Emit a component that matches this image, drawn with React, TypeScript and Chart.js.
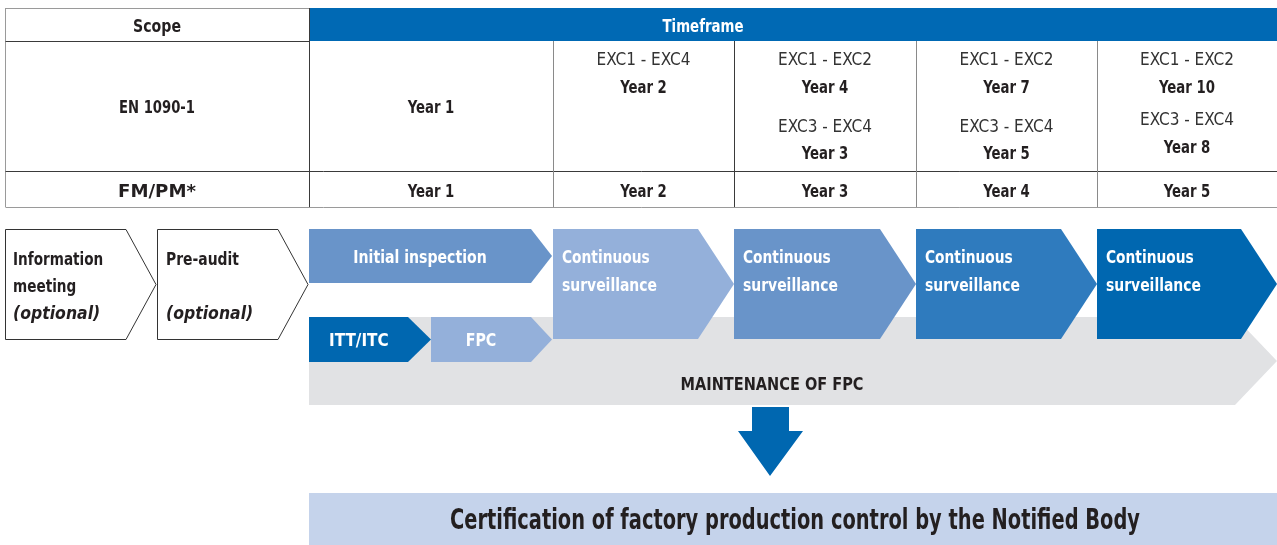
import React, { useEffect, useRef } from "react";
import { Chart, registerables } from "chart.js";

Chart.register(...registerables);

// ---------- content (text values) ----------
const scopeHeader = "Scope";
const timeframeHeader = "Timeframe";
const scopes = ["EN 1090-1", "FM/PM*"];
const enRangeLabels = ["", "EXC1 - EXC4", "EXC1 - EXC2", "EXC1 - EXC2", "EXC1 - EXC2"];
const enRangeYears = ["Year 1", "Year 2", "Year 4", "Year 7", "Year 10"];
const enRange2Labels = ["", "", "EXC3 - EXC4", "EXC3 - EXC4", "EXC3 - EXC4"];
const enRange2Years = ["", "", "Year 3", "Year 5", "Year 8"];
const fmYears = ["Year 1", "Year 2", "Year 3", "Year 4", "Year 5"];
const preSteps = [
  ["Information", "meeting", "(optional)"],
  ["Pre-audit", "", "(optional)"],
];
const initialStep = "Initial inspection";
const fpcSteps = ["ITT/ITC", "FPC"];
const surveillanceSteps = [
  ["Continuous", "surveillance"],
  ["Continuous", "surveillance"],
  ["Continuous", "surveillance"],
  ["Continuous", "surveillance"],
];
const maintenanceLabel = "MAINTENANCE OF FPC";
const certificationLabel = "Certification of factory production control by the Notified Body";

// ---------- layout (diagram coordinates in scale units) ----------
const W = 1277;
const H = 545;
const colEdges = [309, 553, 734, 916, 1097, 1277];
const tableTop = 8;
const headerBottom = 41;
const row2Bottom = 171;
const tableBottom = 207;
const enY = [59, 86, 126, 152];
const enY5 = [59, 86, 119, 146];

const C = {
  dark: "#0067b0",
  mid: "#2f7bbe",
  light: "#6994c9",
  pale: "#94b0da",
  grey: "#e1e2e4",
  cert: "#c5d3eb",
  text: "#231f20",
};
const survColors = [C.pale, C.light, C.mid, C.dark];
const survEdges = [553, 734, 916, 1097, 1277];

const FONT = '"DejaVu Sans Condensed", "DejaVu Sans", Roboto, sans-serif';

type TextOpts = {
  size?: number;
  bold?: boolean;
  italic?: boolean;
  color?: string;
  align?: CanvasTextAlign;
  f?: number;
  w?: number;
};

const diagramPlugin = {
  id: "diagram",
  afterDraw(chart: any) {
    const ctx: CanvasRenderingContext2D = chart.ctx;
    const sx = chart.scales.x;
    const sy = chart.scales.y;
    const X = (v: number) => sx.getPixelForValue(v);
    const Y = (v: number) => sy.getPixelForValue(v);

    const poly = (pts: number[][], fill?: string, stroke?: string, lw = 1) => {
      ctx.beginPath();
      pts.forEach(([a, b], i) => (i ? ctx.lineTo(X(a), Y(b)) : ctx.moveTo(X(a), Y(b))));
      ctx.closePath();
      if (fill) {
        ctx.fillStyle = fill;
        ctx.fill();
      }
      if (stroke) {
        ctx.strokeStyle = stroke;
        ctx.lineWidth = lw;
        ctx.stroke();
      }
    };
    const chevron = (x0: number, x1: number, tip: number, y0: number, y1: number, fill?: string, stroke?: string) =>
      poly(
        [
          [x0, y0],
          [x1, y0],
          [tip, (y0 + y1) / 2],
          [x1, y1],
          [x0, y1],
        ],
        fill,
        stroke
      );
    const line = (x0: number, y0: number, x1: number, y1: number, color: string) => {
      ctx.beginPath();
      ctx.moveTo(X(x0), Y(y0));
      ctx.lineTo(X(x1), Y(y1));
      ctx.strokeStyle = color;
      ctx.lineWidth = 1;
      ctx.stroke();
    };
    const text = (s: string, x: number, y: number, opts: TextOpts = {}) => {
      if (!s) return;
      const { size = 18, bold = true, italic = false, color = C.text, align = "center", f = 0.84, w } = opts;
      ctx.font = `${italic ? "italic " : ""}${bold ? "bold " : ""}${size}px ${FONT}`;
      ctx.fillStyle = color;
      ctx.textAlign = align;
      ctx.textBaseline = "middle";
      const mw = ctx.measureText(s).width;
      const k = w ? w / mw : f;
      ctx.save();
      ctx.translate(X(x), Y(y) + 2);
      ctx.scale(k, 1);
      ctx.fillText(s, 0, 0);
      ctx.restore();
    };

    ctx.save();

    // ---- table ----
    ctx.fillStyle = "#0069b4";
    ctx.fillRect(X(309), Y(tableTop), X(W) - X(309), Y(headerBottom) - Y(tableTop));
    const outer = "#9a9a9a";
    const darkLine = "#3a3a3a";
    const greyLine = "#8a8a8a";
    line(5.5, tableTop + 0.5, 309, tableTop + 0.5, outer);
    line(5.5, tableTop, 5.5, tableBottom, outer);
    line(5.5, tableBottom + 0.5, W, tableBottom + 0.5, outer);
    line(5.5, headerBottom + 0.5, 309, headerBottom + 0.5, darkLine);
    line(5.5, row2Bottom + 0.5, W, row2Bottom + 0.5, darkLine);
    line(309.5, tableTop, 309.5, tableBottom, darkLine);
    colEdges.slice(1, 5).forEach((cx, i) => line(cx + 0.5, headerBottom, cx + 0.5, tableBottom, i === 1 ? darkLine : greyLine));

    text(scopeHeader, 157, 25, { w: 48 });
    text(timeframeHeader, 703, 25, { color: "#ffffff", w: 81 });
    text(scopes[0], 157, 106, { w: 76 });
    text(scopes[1], 157, 190, { w: 78 });

    for (let i = 0; i < 5; i++) {
      const cx = (colEdges[i] + colEdges[i + 1]) / 2;
      const ys = i === 4 ? enY5 : enY;
      if (i === 0) {
        text(enRangeYears[0], cx, 106, { f: 0.82 });
      } else {
        text(enRangeLabels[i], cx, ys[0], { bold: false, color: "#333", size: 17, f: 1 });
        text(enRangeYears[i], cx, ys[1], { f: 0.82 });
        text(enRange2Labels[i], cx, ys[2], { bold: false, color: "#333", size: 17, f: 1 });
        text(enRange2Years[i], cx, ys[3], { f: 0.82 });
      }
      text(fmYears[i], cx, 190, { f: 0.82 });
    }

    // ---- process ----
    chevron(5.5, 126, 156, 229.5, 339.5, "#ffffff", "#333");
    chevron(157.5, 278, 308, 229.5, 339.5, "#ffffff", "#333");
    const preX = [13, 166];
    preSteps.forEach((lines, i) => {
      text(lines[0], preX[i], 258, { align: "left", f: i === 0 ? 0.84 : 0.86 });
      text(lines[1], preX[i], 285, { align: "left", f: 0.84 });
      text(lines[2], preX[i], 312, { align: "left", italic: true, f: 0.97 });
    });

    // grey maintenance band
    chevron(309, 1235, 1277, 317, 405, C.grey);
    text(maintenanceLabel, 772, 384, { size: 17, f: 0.95 });

    // initial inspection
    chevron(309, 531, 552, 229, 283, C.light);
    text(initialStep, 420, 256, { color: "#fff", f: 0.87 });

    // ITT / FPC
    chevron(309, 408, 431, 317, 362, C.dark);
    text(fpcSteps[0], 329, 339, { color: "#fff", align: "left", f: 0.94 });
    chevron(431, 531, 552, 317, 362, C.pale);
    text(fpcSteps[1], 481, 339, { color: "#fff", f: 0.88 });

    // surveillance
    surveillanceSteps.forEach((lines, i) => {
      const x0 = survEdges[i];
      const x1 = survEdges[i + 1];
      chevron(x0, x1 - 36, x1, 229, 339, survColors[i]);
      text(lines[0], x0 + 9, 256, { color: "#fff", align: "left", f: 0.85 });
      text(lines[1], x0 + 9, 284, { color: "#fff", align: "left", f: 0.86 });
    });

    // down arrow
    poly(
      [
        [752, 407],
        [789, 407],
        [789, 431],
        [803, 431],
        [770, 476],
        [738, 431],
        [752, 431],
      ],
      C.dark
    );

    // certification box
    ctx.fillStyle = C.cert;
    ctx.fillRect(X(309), Y(493), X(W) - X(309), Y(H) - Y(493));
    text(certificationLabel, 795, 520, { size: 28, w: 690 });

    ctx.restore();
  },
};

export default function App() {
  const ref = useRef<HTMLCanvasElement | null>(null);
  useEffect(() => {
    document.body.style.margin = "0";
    if (!ref.current) return;
    const chart = new Chart(ref.current, {
      type: "scatter",
      data: { datasets: [{ data: [] }] },
      options: {
        animation: false,
        responsive: false,
        devicePixelRatio: 1,
        layout: { padding: 0 },
        plugins: { legend: { display: false }, tooltip: { enabled: false } },
        scales: {
          x: { type: "linear", min: 0, max: W, display: false },
          y: { type: "linear", min: 0, max: H, reverse: true, display: false },
        },
      },
      plugins: [diagramPlugin],
    });
    return () => chart.destroy();
  }, []);
  return (
    <div style={{ width: W, height: H, background: "#fff" }}>
      <canvas ref={ref} width={W} height={H} style={{ display: "block" }} />
    </div>
  );
}
